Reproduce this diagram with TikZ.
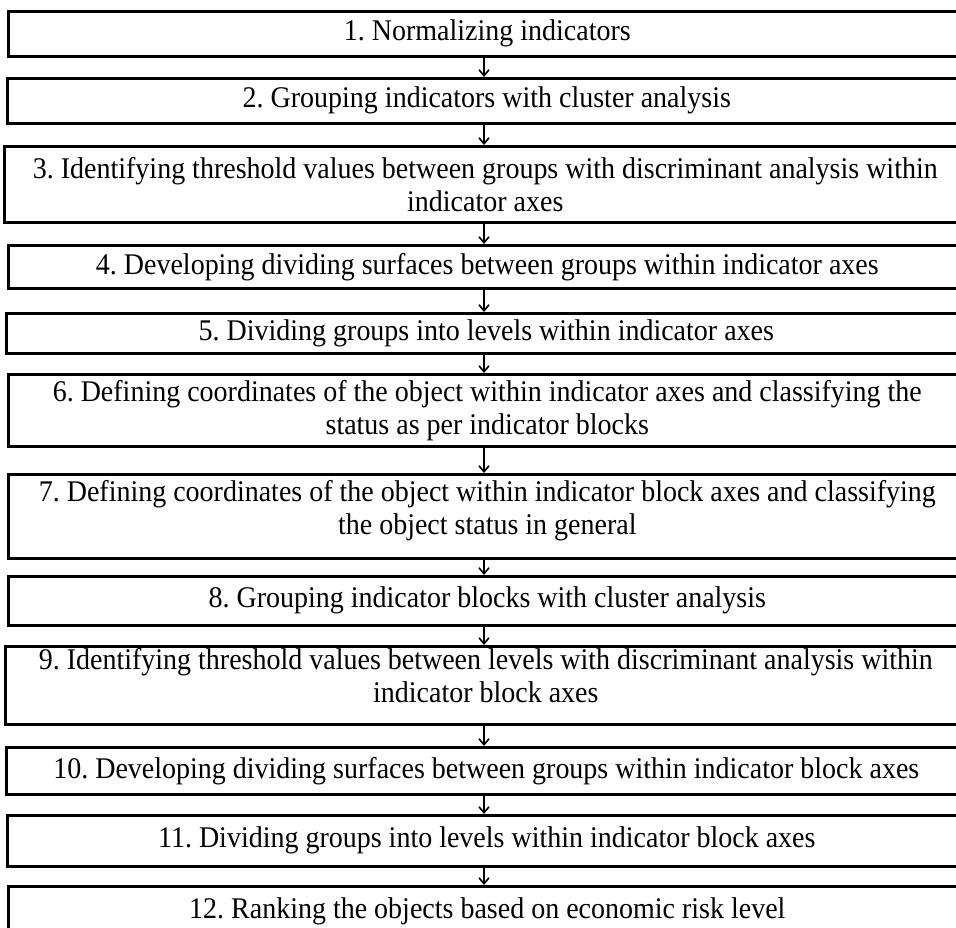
\documentclass[tikz,border=0pt]{standalone}
\usepackage{fontspec}
\setmainfont{Liberation Serif}[FakeStretch=0.933]
\usetikzlibrary{arrows.meta}
\frenchspacing
\tikzset{
  stepbox/.style={draw=black, line width=2.6pt, rectangle, anchor=north west,
    minimum width=#1, align=center, inner sep=0pt,
    font=\fontsize{30}{33}\selectfont},
  flowarrow/.style={line width=1.6pt, -{Straight Barb[length=6pt,width=10pt,line width=1.6pt]}}
}
\begin{document}
\frenchspacing
\begin{tikzpicture}[x=1pt,y=-1pt]
\clip (0,0) rectangle (956,927);
\fill[white] (0,0) rectangle (956,927);
\node[stepbox=958pt, minimum height=45pt] (b1) at (7,10) {1. Normalizing indicators};
\node[stepbox=959pt, minimum height=45pt] (b2) at (6,77) {2. Grouping indicators with cluster analysis};
\node[stepbox=962pt, minimum height=76pt] (b3) at (3,145) {3. Identifying threshold values between groups with discriminant analysis within\\indicator axes};
\node[stepbox=958pt, minimum height=43pt] (b4) at (7,244) {4. Developing dividing surfaces between groups within indicator axes};
\node[stepbox=960pt, minimum height=40pt] (b5) at (5,312) {5. Dividing groups into levels within indicator axes};
\node[stepbox=958pt, minimum height=72pt] (b6) at (7,373) {6. Defining coordinates of the object within indicator axes and classifying the\\status as per indicator blocks};
\node[stepbox=958pt, minimum height=84pt, text depth=17pt] (b7) at (7,473) {7. Defining coordinates of the object within indicator block axes and classifying\\the object status in general};
\node[stepbox=958pt, minimum height=49pt] (b8) at (7,575) {8. Grouping indicator blocks with cluster analysis};
\node[stepbox=961pt, minimum height=78pt, text depth=20pt] (b9) at (4,645) {9. Identifying threshold values between levels with discriminant analysis within\\indicator block axes};
\node[stepbox=960pt, minimum height=47pt] (b10) at (5,746) {10. Developing dividing surfaces between groups within indicator block axes};
\node[stepbox=959pt, minimum height=51pt] (b11) at (6,814) {11. Dividing groups into levels within indicator block axes};
\node[stepbox=958pt, minimum height=50pt] (b12) at (7,885) {12. Ranking the objects based on economic risk level};
\coordinate (ax) at (484,0);
\foreach \a/\b in {b1/b2,b2/b3,b3/b4,b4/b5,b5/b6,b6/b7,b7/b8,b8/b9,b9/b10,b10/b11,b11/b12}{
  \draw[flowarrow] (\a.south -| ax) -- (\b.north -| ax);
}
\end{tikzpicture}
\end{document}
